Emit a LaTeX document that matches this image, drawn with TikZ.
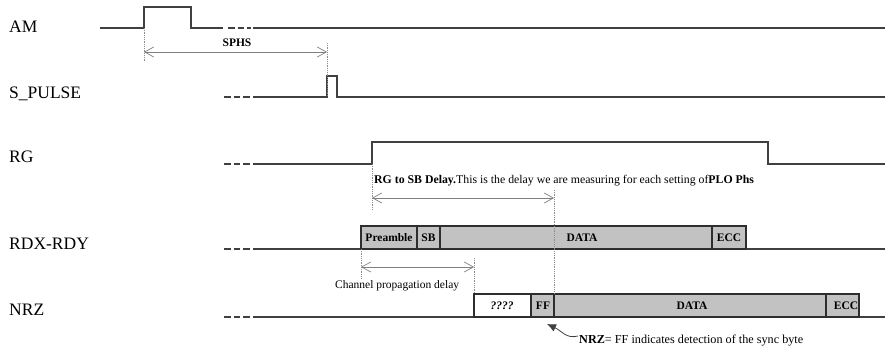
\documentclass[tikz,border=0pt]{standalone}
\usepackage{fontspec}
\setmainfont{Liberation Serif}
\usetikzlibrary{arrows.meta}
\begin{document}
\begin{tikzpicture}[x=1pt,y=-1pt,
  sig/.style={draw=black!75,line width=1.8pt,line join=miter},
  brk/.style={draw=black!75,line width=1.8pt,dash pattern=on 6.5pt off 3pt},
  box/.style={draw=black!82,line width=1.4pt,fill=black!24},
  wbox/.style={draw=black!82,line width=1.4pt,fill=white},
  dim/.style={draw=black!50,line width=0.7pt,{Straight Barb[length=9pt,width=10pt]}-{Straight Barb[length=9pt,width=10pt]}},
  guide/.style={draw=black!45,line width=0.8pt,dash pattern=on 1pt off 0.8pt},
  siglabel/.style={anchor=base west,inner sep=0pt,font=\fontsize{17.5}{19}\selectfont},
  small/.style={inner sep=0pt,font=\fontsize{11.5}{13}\selectfont},
  boxtxt/.style={anchor=base,inner sep=0pt,font=\fontsize{11.5}{13}\selectfont\bfseries}]
\useasboundingbox[fill=white] (0,0) rectangle (885,352);

% ---------- signal labels
\node[siglabel] (lAM) at (9,33) {AM};
\node[siglabel] (lSP) at (9,99) {S\_PULSE};
\node[siglabel] (lRG) at (9,163) {RG};
\node[siglabel] (lRDX) at (9,250) {RDX-RDY};
\node[siglabel] (lNRZ) at (9,315) {NRZ};

% ---------- AM
\coordinate (amR) at (144,28);
\coordinate (amF) at (191,28);
\path[sig] (100,28) -- (amR) -- (144,7) -- (191,7) -- (amF) -- (223,28);
\path[brk] (228,28) -- (251,28);
\path[sig] (253,28) -- (885,28);

% ---------- S_PULSE
\coordinate (spR) at (327,97);
\path[brk] (224,97) -- (251,97);
\path[sig] (253,97) -- (spR) -- (327,76) -- (337,76) -- (337,97) -- (885,97);

% ---------- SPHS
\path[guide] (amR) -- (144,62);
\path[guide] (327,43) -- (spR);
\coordinate (sphsA) at (144,52);
\coordinate (sphsB) at (327,52);
\path[dim] (sphsA) -- (sphsB);
\node[small,font=\fontsize{11.5}{13}\selectfont\bfseries,anchor=base] (tSPHS) at (237,47) {SPHS};

% ---------- RG
\coordinate (rgR) at (372,164);
\path[brk] (224,164) -- (251,164);
\path[sig] (253,164) -- (rgR) -- (372,142) -- (768,142) -- (768,164) -- (885,164);

% ---------- RG to SB delay
\coordinate (sbX) at (554,190);
\path[guide] (rgR) -- (372,210);
\path[dim] (372,198) -- (554,198);
\node[small,anchor=base west,font=\fontsize{11.8}{13}\selectfont] (tRGSB) at (374,184) {\textbf{RG to SB Delay.}This is the delay we are measuring for each setting of\textbf{PLO Phs}};

% ---------- RDX-RDY
\path[brk] (224,249) -- (251,249);
\path[sig] (253,249) -- (885,249);
\path[box] (361,226) rectangle (417,249);
\path[box] (417,226) rectangle (440,249);
\path[box] (440,226) rectangle (712,249);
\path[box] (712,226) rectangle (746,249);
\node[boxtxt] (rPre) at (389,242) {Preamble};
\node[boxtxt] (rSB) at (428.5,242) {SB};
\node[boxtxt] (rDATA) at (582,242) {DATA};
\node[boxtxt] (rECC) at (729,242) {ECC};

% ---------- channel propagation delay
\path[guide] (361,249) -- (361,278);
\path[guide] (474,258) -- (474,294);
\path[dim] (361,267) -- (474,267);
\node[small,anchor=base west] (tCPD) at (335,289) {Channel propagation delay};

% ---------- NRZ
\path[brk] (224,317) -- (251,317);
\path[sig] (253,317) -- (885,317);
\path[wbox] (474,294) rectangle (531,317);
\path[box] (531,294) rectangle (554,317);
\path[box] (554,294) rectangle (826,317);
\path[box] (826,294) rectangle (859,317);
\node[boxtxt,font=\fontsize{11.5}{13}\selectfont\bfseries\itshape] (nQ) at (502,309) {????};
\node[boxtxt] (nFF) at (543,309) {FF};
\node[boxtxt] (nDATA) at (692,309) {DATA};
\node[boxtxt] (nECC) at (846,309) {ECC};

% SB guide line
\path[guide] (sbX) -- (554,294);

% ---------- annotation
\node[small,anchor=base west,font=\fontsize{12.2}{14}\selectfont] (tNote) at (579,343) {\textbf{NRZ}= FF indicates detection of the sync byte};
\coordinate (noteTip) at (547,324);
\draw[black!75,line width=0.8pt,-{Latex[length=9pt,width=8pt]}] (tNote.west) ++(-1,-4) .. controls (566,339) and (562,331) .. (noteTip);
\end{tikzpicture}
\end{document}
